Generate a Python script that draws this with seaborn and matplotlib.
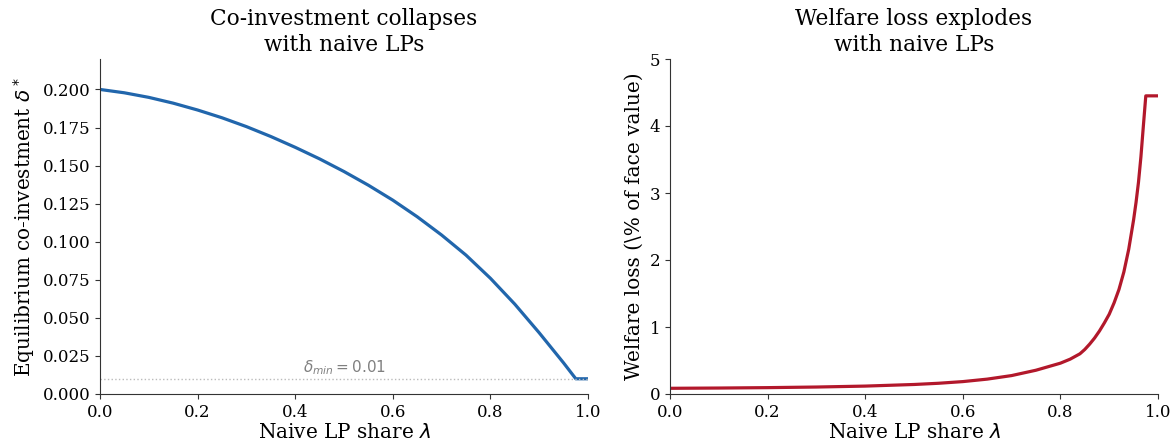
import matplotlib
matplotlib.use('Agg')

import matplotlib.pyplot as plt
import seaborn as sns
import pandas as pd

# values
lam_left = [0.00, 0.05, 0.10, 0.15, 0.20, 0.25, 0.30, 0.35, 0.40, 0.45, 0.50,
            0.55, 0.60, 0.65, 0.70, 0.75, 0.80, 0.85, 0.90, 0.95, 0.975, 1.00]
delta_star = [0.2000, 0.1978, 0.1948, 0.1910, 0.1865, 0.1814, 0.1756, 0.1691,
              0.1620, 0.1544, 0.1461, 0.1371, 0.1273, 0.1164, 0.1044, 0.0912,
              0.0760, 0.0590, 0.0402, 0.0204, 0.0100, 0.0100]

lam_right = [0.00, 0.10, 0.20, 0.30, 0.40, 0.50, 0.55, 0.60, 0.65, 0.70, 0.75,
             0.80, 0.82, 0.84, 0.85, 0.86, 0.87, 0.88, 0.89, 0.90, 0.91, 0.92,
             0.93, 0.94, 0.95, 0.955, 0.96, 0.965, 0.97, 0.975, 1.00]
welfare_loss = [0.085, 0.089, 0.095, 0.104, 0.118, 0.142, 0.160, 0.185, 0.222,
                0.275, 0.355, 0.460, 0.520, 0.600, 0.665, 0.745, 0.835, 0.940,
                1.060, 1.190, 1.360, 1.560, 1.820, 2.160, 2.600, 2.860, 3.160,
                3.540, 4.000, 4.450, 4.450]

delta_min = 0.01

sns.set_style("ticks")
plt.rcParams['font.family'] = ['DejaVu Serif']
plt.rcParams['text.color'] = 'black'
plt.rcParams['axes.labelcolor'] = 'black'
plt.rcParams['axes.edgecolor'] = '#333333'
plt.rcParams['xtick.color'] = '#333333'
plt.rcParams['ytick.color'] = '#333333'
plt.rcParams['xtick.labelcolor'] = 'black'
plt.rcParams['ytick.labelcolor'] = 'black'

fig, (ax1, ax2) = plt.subplots(1, 2, figsize=(11.73, 4.46), dpi=100)

df1 = pd.DataFrame({'lam': lam_left, 'delta': delta_star})
sns.lineplot(data=df1, x='lam', y='delta', ax=ax1, color='#2166ac', linewidth=2.3)
ax1.axhline(delta_min, color='#bbbbbb', linestyle=':', linewidth=1.0)
ax1.text(0.415, 0.0145, r'$\delta_{min} = 0.01$', color='gray', fontsize=11,
         family='DejaVu Sans')
ax1.set_xlim(0, 1)
ax1.set_ylim(0, 0.22)
ax1.set_yticks([0.0, 0.025, 0.05, 0.075, 0.1, 0.125, 0.15, 0.175, 0.2])
ax1.set_yticklabels(['%.3f' % v for v in ax1.get_yticks()])
ax1.set_xlabel(r'Naive LP share $\lambda$', fontsize=14.4, labelpad=2)
ax1.set_ylabel(r'Equilibrium co-investment $\delta^*$', fontsize=14.4, labelpad=4)
ax1.set_title('Co-investment collapses\nwith naive LPs', fontsize=15.6)

df2 = pd.DataFrame({'lam': lam_right, 'loss': welfare_loss})
sns.lineplot(data=df2, x='lam', y='loss', ax=ax2, color='#b2182b', linewidth=2.3)
ax2.set_xlim(0, 1)
ax2.set_ylim(0, 5)
ax2.set_xlabel(r'Naive LP share $\lambda$', fontsize=14.4, labelpad=2)
ax2.set_ylabel('Welfare loss (\\% of face value)', fontsize=14.4, labelpad=4)
ax2.set_title('Welfare loss explodes\nwith naive LPs', fontsize=15.6)

for ax in (ax1, ax2):
    ax.tick_params(labelsize=12)
    sns.despine(ax=ax)

ax1.set_position([100 / 1173, 52 / 446, 488 / 1173, 335 / 446])
ax2.set_position([670 / 1173, 52 / 446, 488 / 1173, 335 / 446])

fig.savefig('out.png', dpi=100)
